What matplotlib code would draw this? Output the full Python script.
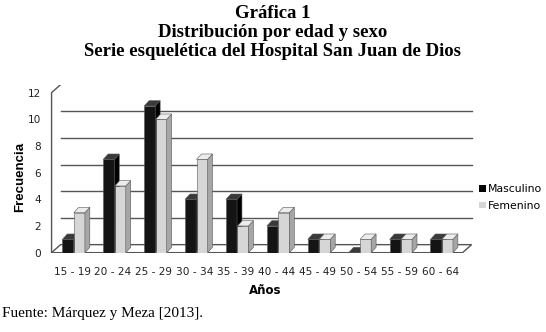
import numpy as np
import matplotlib.pyplot as plt
from matplotlib.patches import Polygon, Patch

grupos = ["15 - 19", "20 - 24", "25 - 29", "30 - 34", "35 - 39",
          "40 - 44", "45 - 49", "50 - 54", "55 - 59", "60 - 64"]
masculino = [1, 7, 11, 4, 4, 2, 1, 0, 1, 1]
femenino = [3, 5, 10, 7, 2, 3, 1, 1, 1, 1]
yticks = [0, 2, 4, 6, 8, 10, 12]

# fake 3d offsets (data units)
BAR_W = 0.27
BAR_DX, BAR_DY = 0.12, 0.4
WALL_DX, WALL_DY = 0.22, 0.6


def bar3d(ax, x, h, front, side, top, z):
    ax.bar(x, h, width=BAR_W, color=front, edgecolor="#555555",
           linewidth=0.4, zorder=z)
    x0, x1 = x - BAR_W / 2, x + BAR_W / 2
    ax.add_patch(Polygon([(x1, 0), (x1 + BAR_DX, BAR_DY),
                          (x1 + BAR_DX, h + BAR_DY), (x1, h)],
                         closed=True, facecolor=side, edgecolor="#555555",
                         linewidth=0.4, zorder=z))
    ax.add_patch(Polygon([(x0, h), (x1, h), (x1 + BAR_DX, h + BAR_DY),
                          (x0 + BAR_DX, h + BAR_DY)],
                         closed=True, facecolor=top, edgecolor="#555555",
                         linewidth=0.4, zorder=z))


fig = plt.figure(figsize=(5.46, 3.32), dpi=100)
ax = fig.add_axes([0.0907, 0.239, 0.779, 0.506])
ax.set_xlim(-0.55, 9.85)
ax.set_ylim(0, 12.6)
for s in ax.spines.values():
    s.set_visible(False)

x = np.arange(len(grupos))

# back wall gridlines and floor
xr = 9.55
for v in yticks[1:-1]:
    ax.plot([-0.5 + WALL_DX, xr + WALL_DX], [v + WALL_DY, v + WALL_DY],
            color="#555555", lw=1.0, zorder=1)
ax.add_patch(Polygon([(-0.5, 0), (xr, 0), (xr + WALL_DX, WALL_DY),
                      (-0.5 + WALL_DX, WALL_DY)], closed=True,
                     facecolor="white", edgecolor="#555555", lw=1.0, zorder=1.5))
ax.plot([-0.5, -0.5, -0.5 + WALL_DX], [0, 12, 12 + WALL_DY],
        color="#555555", lw=1.0, zorder=1.6)

for i in x:
    bar3d(ax, i - 0.1, masculino[i], "#141414", "#000000", "#3a3a3a", 3)
    bar3d(ax, i + 0.18, femenino[i], "#d6d6d6", "#a6a6a6", "#ececec", 4)

ax.set_xticks(x)
ax.set_xticklabels(grupos, fontsize=7.6, family="DejaVu Sans", color="#222222")
ax.set_yticks(yticks)
ax.set_yticklabels([str(v) for v in yticks], fontsize=7.6,
                   family="DejaVu Sans", color="#222222")
ax.tick_params(axis="x", length=0, pad=10)
ax.tick_params(axis="y", length=0, pad=6)

handles = [Patch(facecolor="#000000"), Patch(facecolor="#d6d6d6")]
fig.legend(handles, ["Masculino", "Femenino"], loc="center left",
           bbox_to_anchor=(0.86, 0.405), frameon=False,
           handlelength=0.6, handleheight=0.6, handletextpad=0.2,
           labelspacing=0.6, prop={"family": "DejaVu Sans", "size": 7.8})

fig.text(0.037, 0.467, "Frecuencia", rotation=90, ha="center", va="center",
         fontsize=9.5, fontweight="bold", family="Liberation Sans")
fig.text(0.485, 0.124, "Años", ha="center", va="center",
         fontsize=8.5, fontweight="bold", family="DejaVu Sans")

titulo = ["Gráfica 1", "Distribución por edad y sexo",
          "Serie esquelética del Hospital San Juan de Dios"]
for k, linea in enumerate(titulo):
    fig.text(0.5, 1 - (13 + 19.5 * k) / 332, linea, ha="center", va="center",
             fontsize=13.5, fontweight="bold", family="Liberation Serif")

fig.text(0.004, 1 - 313 / 332, "Fuente: Márquez y Meza [2013].", ha="left",
         va="center", fontsize=11, family="Liberation Serif")

fig.savefig("out.png", dpi=100)
